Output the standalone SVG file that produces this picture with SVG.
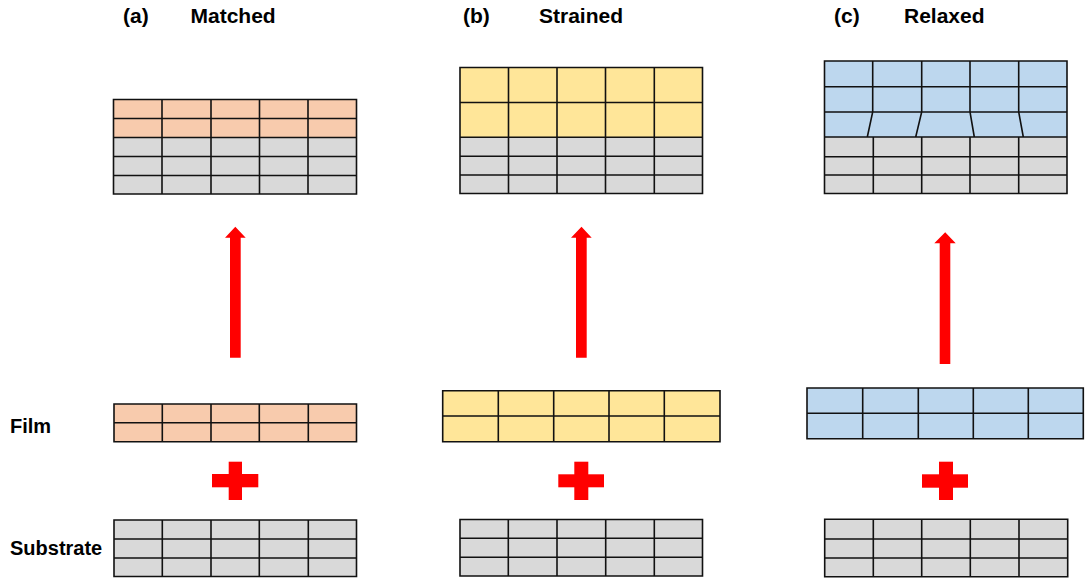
<svg xmlns="http://www.w3.org/2000/svg" width="1087" height="581" viewBox="0 0 1087 581">
<style>
.t{font-family:"Liberation Sans",Arial,sans-serif;font-weight:bold;fill:#000}
.title{font-size:21px}
.lab{font-size:20px}
.gl{fill:none;stroke:#111;stroke-width:1.6}
.peach{fill:#F8CBAD}
.yel{fill:#FFE699}
.blue{fill:#BDD7EE}
.gray{fill:#D9D9D9}
.red{fill:#FF0000}
</style>
<rect width="1087" height="581" fill="#fff"/>
<g id="labels">
<text class="t title" x="123" y="23">(a)</text>
<text class="t title" x="190.5" y="23">Matched</text>
<text class="t title" x="463" y="23">(b)</text>
<text class="t title" x="539" y="23">Strained</text>
<text class="t title" x="834" y="23">(c)</text>
<text class="t title" x="904" y="23">Relaxed</text>
<text class="t lab" x="10" y="433">Film</text>
<text class="t lab" x="10" y="555">Substrate</text>
</g>
<g id="a-top">
<rect class="peach" x="113.5" y="99.5" width="243" height="38"/>
<rect class="gray" x="113.5" y="137.5" width="243" height="56.5"/>
<path class="gl" d="M113.5 99.5H356.5V194H113.5Z M113.5 118.5H356.5 M113.5 137.5H356.5 M113.5 156.5H356.5 M113.5 175.5H356.5 M162 99.5V194 M211 99.5V194 M259.5 99.5V194 M308 99.5V194"/>
</g>
<g id="a-film">
<rect class="peach" x="114" y="404" width="242.5" height="37.7"/>
<path class="gl" d="M114 404H356.5V441.7H114Z M114 422.7H356.5 M162.3 404V441.7 M211 404V441.7 M259.3 404V441.7 M308.3 404V441.7"/>
</g>
<g id="a-substrate">
<rect class="gray" x="114" y="520" width="242.5" height="56.5"/>
<path class="gl" d="M114 520H356.5V576.5H114Z M114 539H356.5 M114 558H356.5 M162.3 520V576.5 M211 520V576.5 M259.3 520V576.5 M308.3 520V576.5"/>
</g>
<g id="a-plus">
<rect class="red" x="212" y="474" width="46.3" height="13.3"/>
<rect class="red" x="228.7" y="461.7" width="13.3" height="38.3"/>
</g>
<g id="b-top">
<rect class="yel" x="460" y="67.5" width="242.5" height="69.8"/>
<rect class="gray" x="460" y="137.3" width="242.5" height="56.2"/>
<path class="gl" d="M460 67.5H702.5V193.5H460Z M460 102.5H702.5 M460 137.3H702.5 M460 156.3H702.5 M460 175H702.5 M508.5 67.5V193.5 M557 67.5V193.5 M605.5 67.5V193.5 M654.3 67.5V193.5"/>
</g>
<g id="b-film">
<rect class="yel" x="442.7" y="390.7" width="277.3" height="51"/>
<path class="gl" d="M442.7 390.7H720V441.7H442.7Z M442.7 416H720 M498.3 390.7V441.7 M553.7 390.7V441.7 M609 390.7V441.7 M664.3 390.7V441.7"/>
</g>
<g id="b-substrate">
<rect class="gray" x="460" y="519.5" width="242.5" height="56.5"/>
<path class="gl" d="M460 519.5H702.5V576H460Z M460 538.3H702.5 M460 557.3H702.5 M508.3 519.5V576 M557 519.5V576 M605.7 519.5V576 M654.3 519.5V576"/>
</g>
<g id="b-plus">
<rect class="red" x="558.3" y="474.3" width="45.7" height="13"/>
<rect class="red" x="574.3" y="461.7" width="14" height="38.3"/>
</g>
<g id="c-top">
<rect class="blue" x="824.5" y="61" width="242.5" height="76"/>
<rect class="gray" x="824.5" y="137" width="242.5" height="56.5"/>
<path class="gl" d="M824.5 61H1067V193.5H824.5Z M824.5 86.7H1067 M824.5 112H1067 M824.5 137H1067 M824.5 156.7H1067 M824.5 175H1067 M872.7 61V112L867.3 137 M921.7 61V112L915.7 137 M970 61V112L974.3 137 M1018.7 61V112L1023.3 137 M873.3 137V193.5 M921.7 137V193.5 M970 137V193.5 M1018.7 137V193.5"/>
</g>
<g id="c-film">
<rect class="blue" x="807" y="388" width="276.3" height="50.7"/>
<path class="gl" d="M807 388H1083.3V438.7H807Z M807 413.3H1083.3 M862.7 388V438.7 M918.3 388V438.7 M973.3 388V438.7 M1028.3 388V438.7"/>
</g>
<g id="c-substrate">
<rect class="gray" x="824.7" y="519.3" width="243" height="57.4"/>
<path class="gl" d="M824.7 519.3H1067.7V576.7H824.7Z M824.7 539H1067.7 M824.7 558H1067.7 M873.3 519.3V576.7 M921.7 519.3V576.7 M970.3 519.3V576.7 M1019 519.3V576.7"/>
</g>
<g id="c-plus">
<rect class="red" x="922" y="474.3" width="46" height="13.4"/>
<rect class="red" x="939" y="461.7" width="14" height="38.3"/>
</g>
<g id="connectors">
<polygon class="red" points="230,357.7 240.7,357.7 240.7,237.7 245.7,237.7 235.3,226.7 225,237.7 230,237.7"/>
<polygon class="red" points="576,357.7 586.7,357.7 586.7,237.7 591.7,237.7 581.5,226.7 571,237.7 576,237.7"/>
<polygon class="red" points="939.7,364 950.3,364 950.3,243.3 955.7,243.3 945.2,232.3 934.3,243.3 939.7,243.3"/>
</g>
</svg>
